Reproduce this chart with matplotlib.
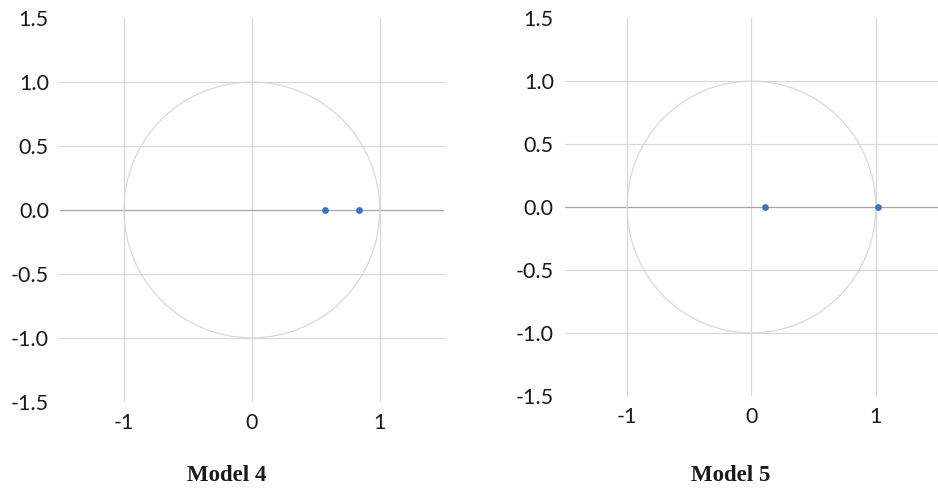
"""Inverse roots of the two models plotted against the unit circle."""

import matplotlib

matplotlib.use("Agg")
import matplotlib.pyplot as plt
from matplotlib.patches import Circle

plt.rcParams["font.family"] = ["Lato", "DejaVu Sans"]

MODEL4_RE = [0.57, 0.84]
MODEL4_IM = [0.0, 0.0]
MODEL5_RE = [0.11, 1.02]
MODEL5_IM = [0.0, 0.0]

TITLES = ["Model 4", "Model 5"]
X_TICKS = [-1, 0, 1]
X_TICK_LABELS = ["-1", "0", "1"]
Y_TICKS = [-1.5, -1.0, -0.5, 0.0, 0.5, 1.0, 1.5]
Y_TICK_LABELS = ["-1.5", "-1.0", "-0.5", "0.0", "0.5", "1.0", "1.5"]

GRID = "#d9d9d9"
AXIS = "#a6a6a6"
DOT = "#3f72bf"


def draw_panel(ax, re, im):
    ax.set_xlim(-1.5, 1.5)
    ax.set_ylim(-1.5, 1.5)
    for s in ax.spines.values():
        s.set_visible(False)
    # gridlines (no lines at the +-1.5 edges)
    for y in Y_TICKS:
        if abs(y) < 1.4 and y != 0:
            ax.axhline(y, color=GRID, lw=0.9, zorder=0)
    for x in X_TICKS:
        ax.axvline(x, color=GRID, lw=0.9, zorder=0)
    ax.axhline(0, color=AXIS, lw=0.9, zorder=1)
    ax.add_patch(Circle((0, 0), 1.0, fill=False, ec=GRID, lw=0.9, zorder=1))
    ax.scatter(re, im, s=24, color=DOT, zorder=3, linewidths=0)
    ax.set_xticks(X_TICKS, X_TICK_LABELS)
    ax.set_yticks(Y_TICKS, Y_TICK_LABELS)
    ax.tick_params(length=0, labelsize=15.5, colors="#1a1a1a", pad=8)


fig = plt.figure(figsize=(9.38, 4.9), dpi=100)
ax1 = fig.add_axes([0.064, 0.180, 0.409, 0.783])
ax2 = fig.add_axes([0.6023, 0.192, 0.3977, 0.771])
draw_panel(ax1, MODEL4_RE, MODEL4_IM)
draw_panel(ax2, MODEL5_RE, MODEL5_IM)

serif = ["Liberation Serif", "DejaVu Serif"]
fig.text(227 / 938, 1 - 475 / 490, TITLES[0], ha="center", va="center",
         fontsize=16.5, fontweight="bold", family=serif, color="#1a1a1a")
fig.text(731 / 938, 1 - 475 / 490, TITLES[1], ha="center", va="center",
         fontsize=16.5, fontweight="bold", family=serif, color="#1a1a1a")

fig.savefig("out.png", dpi=100)
